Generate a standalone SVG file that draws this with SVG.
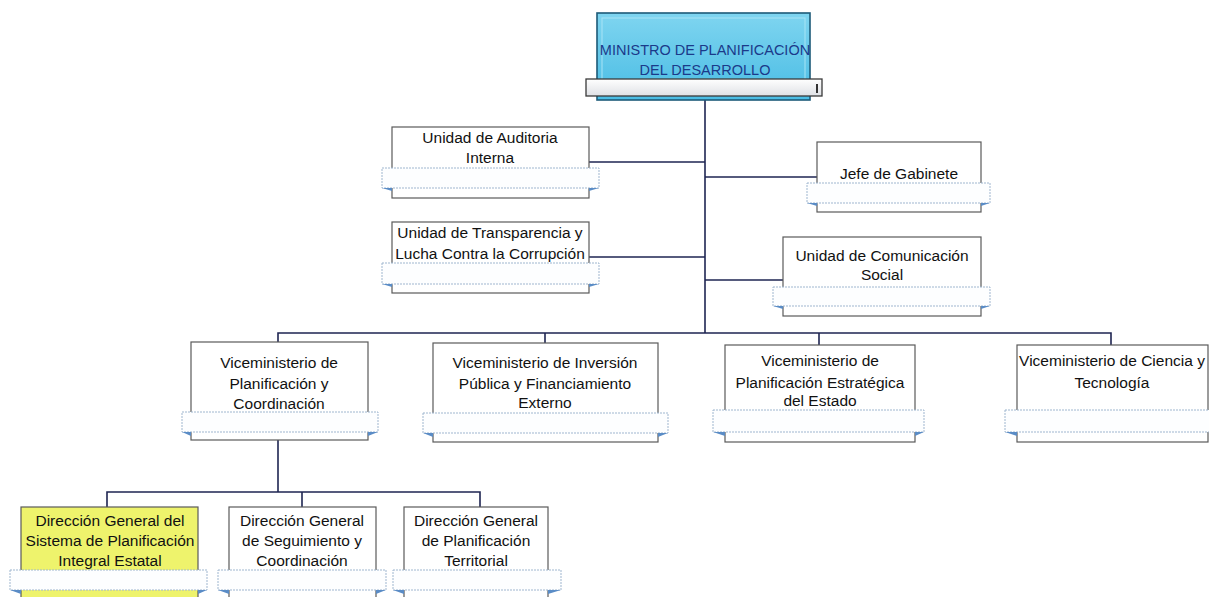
<svg xmlns="http://www.w3.org/2000/svg" width="1209" height="597" viewBox="0 0 1209 597">
<defs>
<linearGradient id="gBlue" x1="0" y1="0" x2="0" y2="1">
<stop offset="0" stop-color="#7fd5f0"/>
<stop offset="1" stop-color="#49bce4"/>
</linearGradient>
<linearGradient id="gRib" x1="0" y1="0" x2="0" y2="1">
<stop offset="0" stop-color="#ffffff"/>
<stop offset="1" stop-color="#dfe1e5"/>
</linearGradient>
</defs>
<style>
.box{fill:#ffffff;stroke:#5a5a5a;stroke-width:1.2}
.rib{fill:#fdfeff;stroke:#9fb6cf;stroke-width:1;stroke-dasharray:2 1}
.fold{fill:#5a8cc6}
.t{font-family:"Liberation Sans",Arial,sans-serif;font-size:15.5px;fill:#111;text-anchor:middle}
.tm{font-family:"Liberation Sans",Arial,sans-serif;font-size:14.5px;fill:#1b3a8a;text-anchor:middle}
.c{fill:none;stroke:#1e2552;stroke-width:1.6}
</style>
<rect width="1209" height="597" fill="#ffffff"/>
<g id="connectors">
<path class="c" d="M705 100 V333"/>
<path class="c" d="M589 162 H705"/>
<path class="c" d="M589 257 H705"/>
<path class="c" d="M705 177 H817"/>
<path class="c" d="M705 280 H783"/>
<path class="c" d="M278 342 V333 H1111 V345"/>
<path class="c" d="M545 333 V343"/>
<path class="c" d="M819 333 V345"/>
<path class="c" d="M278 440 V492"/>
<path class="c" d="M107 507 V492 H480 V507"/>
<path class="c" d="M302 492 V507"/>
</g>
<g id="ministro">
<rect x="597" y="13" width="213" height="87" fill="url(#gBlue)" stroke="#1d5a78" stroke-width="1.6"/>
<rect x="602" y="18" width="203" height="77" fill="none" stroke="#a7e4f5" stroke-width="1"/>
<text class="tm" x="705" y="55">MINISTRO DE PLANIFICACIÓN</text>
<text class="tm" x="705" y="75">DEL DESARROLLO</text>
<rect x="586" y="79" width="236" height="17" fill="url(#gRib)" stroke="#3a3a3a" stroke-width="1.3"/>
<path d="M817 84 V93" stroke="#333" stroke-width="2"/>
</g>
<g id="auditoria">
<rect class="box" x="392" y="127" width="197" height="71"/>
<text class="t" x="490" y="143">Unidad de Auditoria</text>
<text class="t" x="490" y="163">Interna</text>
<rect class="rib" x="382" y="168" width="217" height="20"/>
<path class="fold" d="M382 188 L392 188 L392 191 Z"/>
<path class="fold" d="M599 188 L589 188 L589 191 Z"/>
</g>
<g id="transparencia">
<rect class="box" x="392" y="222" width="197" height="71"/>
<text class="t" x="490" y="238">Unidad de Transparencia y</text>
<text class="t" x="490" y="259">Lucha Contra la Corrupción</text>
<rect class="rib" x="382" y="263" width="217" height="21"/>
<path class="fold" d="M382 284 L392 284 L392 287 Z"/>
<path class="fold" d="M599 284 L589 284 L589 287 Z"/>
</g>
<g id="jefe">
<rect class="box" x="817" y="142" width="164" height="70"/>
<text class="t" x="899" y="179">Jefe de Gabinete</text>
<rect class="rib" x="807" y="183" width="183" height="20"/>
<path class="fold" d="M807 203 L817 203 L817 206 Z"/>
<path class="fold" d="M990 203 L981 203 L981 206 Z"/>
</g>
<g id="comunicacion">
<rect class="box" x="783" y="237" width="198" height="79"/>
<text class="t" x="882" y="261">Unidad de Comunicación</text>
<text class="t" x="882" y="280">Social</text>
<rect class="rib" x="773" y="287" width="217" height="19"/>
<path class="fold" d="M773 306 L783 306 L783 309 Z"/>
<path class="fold" d="M990 306 L981 306 L981 309 Z"/>
</g>
<g id="vm_coordinacion">
<rect class="box" x="191" y="342" width="177" height="98"/>
<text class="t" x="279" y="368">Viceministerio de</text>
<text class="t" x="279" y="389">Planificación y</text>
<text class="t" x="279" y="409">Coordinación</text>
<rect class="rib" x="182" y="412" width="196" height="20"/>
<path class="fold" d="M182 432 L191 432 L191 436 Z"/>
<path class="fold" d="M378 432 L368 432 L368 436 Z"/>
</g>
<g id="vm_inversion">
<rect class="box" x="433" y="343" width="225" height="99"/>
<text class="t" x="545" y="368">Viceministerio de Inversión</text>
<text class="t" x="545" y="389">Pública y Financiamiento</text>
<text class="t" x="545" y="408">Externo</text>
<rect class="rib" x="423" y="413" width="245" height="20"/>
<path class="fold" d="M423 433 L433 433 L433 437 Z"/>
<path class="fold" d="M668 433 L658 433 L658 437 Z"/>
</g>
<g id="vm_estrategica">
<rect class="box" x="725" y="345" width="190" height="97"/>
<text class="t" x="820" y="366">Viceministerio de</text>
<text class="t" x="820" y="388">Planificación Estratégica</text>
<text class="t" x="820" y="406">del Estado</text>
<rect class="rib" x="713" y="410" width="211" height="22"/>
<path class="fold" d="M713 432 L725 432 L725 436 Z"/>
<path class="fold" d="M924 432 L915 432 L915 436 Z"/>
</g>
<g id="vm_ciencia">
<rect class="box" x="1017" y="345" width="191" height="97"/>
<text class="t" x="1112" y="366">Viceministerio de Ciencia y</text>
<text class="t" x="1112" y="388">Tecnología</text>
<rect class="rib" x="1005" y="410" width="210" height="22"/>
<path class="fold" d="M1005 432 L1017 432 L1017 436 Z"/>
</g>
<g id="dg_sistema">
<rect x="21" y="507" width="177" height="100" fill="#eef36c" stroke="#5a5a5a" stroke-width="1.2"/>
<text class="t" x="110" y="526">Dirección General del</text>
<text class="t" x="110" y="546">Sistema de Planificación</text>
<text class="t" x="110" y="566">Integral Estatal</text>
<rect class="rib" x="10" y="570" width="197" height="20"/>
<path class="fold" d="M10 590 L21 590 L21 594 Z"/>
<path class="fold" d="M207 590 L198 590 L198 594 Z"/>
</g>
<g id="dg_seguimiento">
<rect class="box" x="229" y="507" width="147" height="100"/>
<text class="t" x="302" y="526">Dirección General</text>
<text class="t" x="302" y="546">de Seguimiento y</text>
<text class="t" x="302" y="566">Coordinación</text>
<rect class="rib" x="218" y="570" width="168" height="20"/>
<path class="fold" d="M218 590 L229 590 L229 594 Z"/>
<path class="fold" d="M386 590 L376 590 L376 594 Z"/>
</g>
<g id="dg_territorial">
<rect class="box" x="404" y="507" width="144" height="100"/>
<text class="t" x="476" y="526">Dirección General</text>
<text class="t" x="476" y="546">de Planificación</text>
<text class="t" x="476" y="566">Territorial</text>
<rect class="rib" x="393" y="570" width="168" height="20"/>
<path class="fold" d="M393 590 L404 590 L404 594 Z"/>
<path class="fold" d="M561 590 L548 590 L548 594 Z"/>
</g>
</svg>
